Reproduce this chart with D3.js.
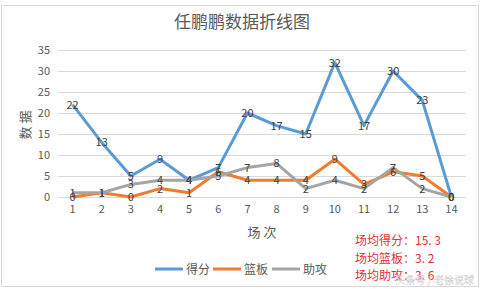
<!DOCTYPE html>
<html>
<head>
<meta charset="utf-8">
<script src="https://cdn.jsdelivr.net/npm/d3@7"></script>
<style>
  body { margin: 0; background: #fff; }
  text { font-family: "Noto Sans CJK SC", "Microsoft YaHei", sans-serif; }
</style>
</head>
<body>
<svg></svg>
<script>
var games = ["1","2","3","4","5","6","7","8","9","10","11","12","13","14"];
var points = [22, 13, 5, 9, 4, 7, 20, 17, 15, 32, 17, 30, 23, 0];
var rebounds = [0, 1, 0, 2, 1, 6, 4, 4, 4, 9, 3, 6, 5, 0];
var assists = [1, 1, 3, 4, 4, 5, 7, 8, 2, 4, 2, 7, 2, 0];
var seriesNames = ["得分", "篮板", "助攻"];
var yTicks = [0, 5, 10, 15, 20, 25, 30, 35];
var notes = ["场均得分：15. 3", "场均篮板：3. 2", "场均助攻：3. 6"];

var colors = ["#5b9bd5", "#ed7d31", "#a5a5a5"];
var series = [points, rebounds, assists];

var W = 481, H = 289;
var margin = {top: 50, right: 15, bottom: 92, left: 58},
    width = W - margin.left - margin.right,
    height = H - margin.top - margin.bottom;

var root = d3.select("svg").attr("width", W).attr("height", H);

// outer frame
root.append("rect")
    .attr("x", 1.5).attr("y", 5.5)
    .attr("width", W - 4).attr("height", H - 8)
    .attr("fill", "#fff").attr("stroke", "#d9d9d9");

root.append("text")
    .attr("x", 242).attr("y", 28)
    .attr("text-anchor", "middle")
    .attr("font-size", 17)
    .attr("fill", "#595959")
    .text("任鹏鹏数据折线图");

var svg = root.append("g")
    .attr("transform", "translate(" + margin.left + "," + margin.top + ")");

var x = d3.scaleBand().domain(games).range([0, width]);
var y = d3.scaleLinear().domain([0, 35]).range([height, 0]);

// gridlines
svg.append("g")
    .selectAll("line")
    .data(yTicks)
    .enter()
    .append("line")
        .attr("x1", 0).attr("x2", width)
        .attr("y1", function(d) { return Math.round(y(d)) + 0.5; })
        .attr("y2", function(d) { return Math.round(y(d)) + 0.5; })
        .attr("stroke", "#d9d9d9");

var yAxis = svg.append("g")
    .call(d3.axisLeft(y).tickValues(yTicks).tickSize(0).tickPadding(8));
yAxis.select(".domain").remove();
yAxis.selectAll("text").attr("font-size", 11).attr("fill", "#595959")
    .style("font-family", "'Noto Sans CJK SC', sans-serif");

var xAxis = svg.append("g")
    .attr("transform", "translate(0," + height + ")")
    .call(d3.axisBottom(x).tickSize(0).tickPadding(8));
xAxis.select(".domain").remove();
xAxis.selectAll("text").attr("font-size", 11).attr("fill", "#595959")
    .style("font-family", "'Noto Sans CJK SC', sans-serif");

// axis titles
root.append("text")
    .attr("transform", "translate(30,125) rotate(-90)")
    .attr("text-anchor", "middle")
    .attr("font-size", 13)
    .attr("fill", "#595959")
    .text("数 据");

root.append("text")
    .attr("x", 262).attr("y", 237)
    .attr("text-anchor", "middle")
    .attr("font-size", 13)
    .attr("fill", "#595959")
    .text("场 次");

var line = d3.line()
    .x(function(d, i) { return x(games[i]) + x.bandwidth() / 2; })
    .y(function(d) { return y(d); });

series.forEach(function(s, k) {
    svg.append("path")
        .datum(s)
        .attr("fill", "none")
        .attr("stroke", colors[k])
        .attr("stroke-width", 3)
        .attr("stroke-linejoin", "round")
        .attr("d", line);
});

// data labels
series.forEach(function(s, k) {
    svg.append("g")
        .selectAll("text")
        .data(s)
        .enter()
        .append("text")
            .attr("x", function(d, i) { return x(games[i]) + x.bandwidth() / 2; })
            .attr("y", function(d) { return y(d) + 4; })
            .attr("text-anchor", "middle")
            .attr("font-size", 11)
            .attr("fill", "#404040")
            .text(function(d) { return d; });
});

// legend
var legendX = [155, 213, 272];
seriesNames.forEach(function(n, k) {
    var g = root.append("g").attr("transform", "translate(" + legendX[k] + ",269)");
    g.append("line")
        .attr("x1", 0).attr("x2", 28)
        .attr("stroke", colors[k]).attr("stroke-width", 3);
    g.append("text")
        .attr("x", 31).attr("y", 4.5)
        .attr("font-size", 12)
        .attr("fill", "#595959")
        .text(n);
});

// red notes
root.append("g")
    .selectAll("text")
    .data(notes)
    .enter()
    .append("text")
        .attr("x", 355)
        .attr("y", function(d, i) { return 245 + i * 17.5; })
        .attr("font-size", 12)
        .attr("fill", "#e0323a")
        .text(function(d) { return d; });

// watermark
root.append("text")
    .attr("x", 474).attr("y", 284)
    .attr("text-anchor", "end")
    .attr("font-size", 10)
    .attr("fill", "#ffffff")
    .attr("fill-opacity", 0.85)
    .attr("stroke", "#bbbbbb")
    .attr("stroke-width", 0.3)
    .text("头条号 / 老徐说球");
</script>
</body>
</html>
